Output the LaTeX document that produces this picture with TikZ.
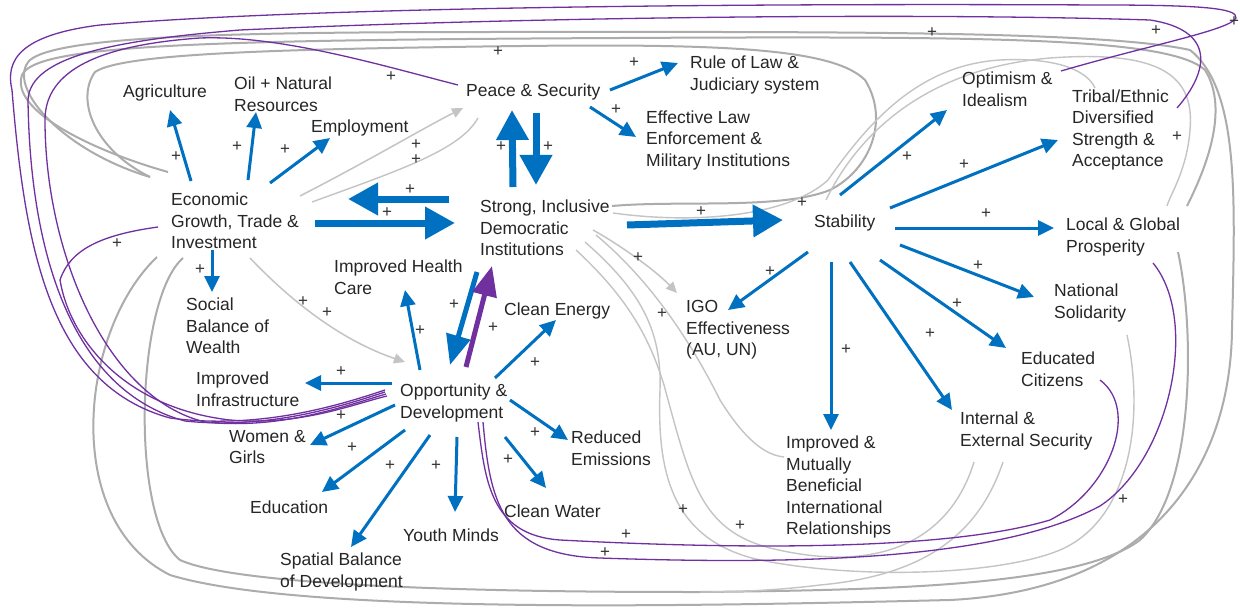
\documentclass[tikz,border=0pt]{standalone}
\usepackage{fontspec}
\setmainfont{Liberation Sans}
\usetikzlibrary{arrows.meta,calc}
\definecolor{cblue}{RGB}{0,112,192}
\definecolor{cpurple}{RGB}{112,48,160}
\definecolor{cgray}{RGB}{172,172,172}
\definecolor{lgray}{RGB}{196,196,196}
\pgfdeclarelayer{bg}
\pgfdeclarelayer{paper}
\pgfsetlayers{paper,bg,main}
\begin{document}
\begin{tikzpicture}[x=1pt,y=-1pt,
  lbl/.style={anchor=west,inner sep=0pt,align=left,font=\fontsize{17.5}{21.5}\selectfont,text=black!85},
  plus/.style={inner sep=0pt,font=\fontsize{17}{17}\selectfont,text=black!80},
  barrow/.style={draw=cblue,line width=3pt,-{Triangle[length=16pt,width=15pt]}},
  bigarrow/.style={draw=cblue,line width=7pt,-{Triangle[length=30pt,width=31pt]}},
  medarrow/.style={line width=5pt,-{Triangle[length=30pt,width=24pt]}},
  garrow/.style={draw=lgray,line width=1.5pt,-{Triangle[length=11pt,width=10pt]}},
  gline/.style={draw=cgray,line width=2pt},
  tline/.style={draw=lgray,line width=1.4pt},
  pline/.style={draw=cpurple,line width=1.3pt}
]
\begin{pgfonlayer}{paper}
\fill[white] (0,0) rectangle (1240,615);
\end{pgfonlayer}
\useasboundingbox (0,0) rectangle (1240,615);

% ---- variables ----
\node[lbl] (agri) at (123,93) {Agriculture};
\node[lbl] (oil) at (234,94) {Oil + Natural\\Resources};
\node[lbl] (empl) at (311,128) {Employment};
\node[lbl] (peace) at (466,92) {Peace \& Security};
\node[lbl] (rule) at (690,75) {Rule of Law \&\\Judiciary system};
\node[lbl] (eff) at (646,140) {Effective Law\\Enforcement \&\\Military Institutions};
\node[lbl] (econ) at (171,221) {Economic\\Growth, Trade \&\\Investment};
\node[lbl] (strong) at (480,228) {Strong, Inclusive\\Democratic\\Institutions};
\node[lbl] (stab) at (814,223) {Stability};
\node[lbl] (opt) at (962,89) {Optimism \&\\Idealism};
\node[lbl] (tribal) at (1072,130) {Tribal/Ethnic\\Diversified\\Strength \&\\Acceptance};
\node[lbl] (local) at (1066,237) {Local \& Global\\Prosperity};
\node[lbl] (natl) at (1054,303) {National\\Solidarity};
\node[lbl] (educc) at (1021,369) {Educated\\Citizens};
\node[lbl] (intext) at (960,431) {Internal \&\\External Security};
\node[lbl] (mutual) at (786,487) {Improved \&\\Mutually\\Beneficial\\International\\Relationships};
\node[lbl] (igo) at (686,330) {IGO\\Effectiveness\\(AU, UN)};
\node[lbl] (health) at (334,277) {Improved Health\\Care};
\node[lbl] (energy) at (504,311) {Clean Energy};
\node[lbl] (social) at (186,326) {Social\\Balance of\\Wealth};
\node[lbl] (infra) at (196,389) {Improved\\Infrastructure};
\node[lbl] (opp) at (400,403) {Opportunity \&\\Development};
\node[lbl] (women) at (229,447) {Women \&\\Girls};
\node[lbl] (reduced) at (571,448) {Reduced\\Emissions};
\node[lbl] (education) at (250,507) {Education};
\node[lbl] (water) at (504,511) {Clean Water};
\node[lbl] (youth) at (403,535) {Youth Minds};
\node[lbl] (spatial) at (280,572) {Spatial Balance\\of Development};

\coordinate (merge) at (700,592);

\begin{pgfonlayer}{bg}
% ---- grey loops ----
\draw[gline] ($(econ.west)+(-21,-44)$) .. controls (95,150) and (75,100) .. (95,72)
  .. controls (120,55) and (250,50) .. (450,47)
  .. controls (700,43) and (830,45) .. (865,80)
  .. controls (890,120) and (870,170) .. (830,190)
  .. controls (780,210) and (680,200) .. ($(strong.west)+(132,-22)$);
\draw[gline] ($(econ.west)+(-3,-49)$) .. controls (90,150) and (10,110) .. (22,75)
  .. controls (35,45) and (200,40) .. (620,38)
  .. controls (1000,36) and (1170,38) .. (1205,70)
  .. controls (1230,110) and (1205,170) .. ($(local.west)+(121,-31)$);
\draw[gline] ($(econ.west)+(-14,36)$) .. controls (80,330) and (60,520) .. (170,575)
  .. controls (300,615) and (700,606) .. (950,600)
  .. controls (1150,590) and (1230,470) .. (1232,330)
  .. controls (1235,200) and (1240,90) .. (1190,50)
  .. controls (1100,30) and (800,32) .. (500,32)
  .. controls (250,32) and (60,35) .. (30,60)
  .. controls (5,85) and (60,150) .. ($(econ.west)+(-21,-44)$);
\draw[gline] ($(econ.west)+(12,37)$) .. controls (135,300) and (130,520) .. (180,560)
  .. controls (250,592) and (600,592) .. (700,592)
  .. controls (900,590) and (1080,585) .. (1140,540)
  .. controls (1195,490) and (1195,330) .. ($(local.west)+(112,15)$);
\draw[tline] ($(intext.west)+(43,31)$) .. controls (980,530) and (930,575) .. (820,585)
  .. controls (780,590) and (740,592) .. (merge);
\draw[tline] ($(strong.west)+(133,-15)$) .. controls (700,225) and (790,215) .. (828,180)
  .. controls (870,120) and (920,65) .. (1000,60)
  .. controls (1060,57) and (1088,72) .. ($(tribal.west)+(23,-42)$);
\draw[tline] ($(stab.west)+(12,-23)$) .. controls (860,130) and (930,68) .. (1050,58)
  .. controls (1160,50) and (1195,75) .. (1190,130)
  .. controls (1187,170) and (1170,195) .. ($(local.west)+(101,-31)$);
\draw[tline] ($(strong.west)+(116,7)$) .. controls (650,280) and (690,340) .. (720,400)
  .. controls (745,440) and (765,455) .. ($(mutual.west)+(-2,-30)$);
\draw[tline] ($(strong.west)+(105,14)$) .. controls (640,290) and (662,330) .. (660,390)
  .. controls (657,470) and (670,540) .. (760,560)
  .. controls (860,580) and (1000,575) .. (1060,550)
  .. controls (1130,520) and (1145,420) .. ($(natl.west)+(73,32)$);
\draw[tline] ($(strong.west)+(96,22)$) .. controls (630,300) and (650,340) .. (664,385)
  .. controls (690,480) and (700,530) .. (770,548)
  .. controls (880,575) and (950,540) .. ($(intext.west)+(14,31)$);
\draw[tline] ($(econ.west)+(141,-19)$) .. controls (400,170) and (460,150) .. ($(peace.west)+(12,26)$);
\draw[garrow] ($(econ.west)+(129,-25)$) .. controls (370,160) and (420,130) .. ($(peace.west)+(-3,16)$);
\draw[garrow] ($(econ.west)+(79,37)$) .. controls (290,300) and (340,340) .. ($(opp.west)+(5,-41)$);
\draw[garrow] ($(strong.west)+(113,2)$) .. controls (620,245) and (655,270) .. ($(igo.west)+(-9,-37)$);

% ---- purple links ----
\draw[pline] ($(opt.west)+(99,-18)$) .. controls (1150,45) and (1230,30) .. (1236,18)
  .. controls (1238,8) and (1200,5) .. (1100,5)
  .. controls (700,3) and (300,8) .. (100,25)
  .. controls (20,35) and (5,60) .. (12,90)
  .. controls (25,250) and (50,385) .. (170,418)
  .. controls (260,430) and (340,405) .. ($(opp.west)+(-15,-13)$);
\draw[pline] ($(tribal.west)+(105,-22)$) .. controls (1210,70) and (1215,30) .. (1150,20)
  .. controls (900,12) and (500,18) .. (240,30)
  .. controls (120,40) and (30,55) .. (28,100)
  .. controls (30,250) and (70,390) .. (185,421)
  .. controls (270,430) and (345,405) .. ($(opp.west)+(-15,-11)$);
\draw[pline] ($(peace.west)+(-8,-7)$) .. controls (380,65) and (280,35) .. (200,38)
  .. controls (100,45) and (45,70) .. (45,120)
  .. controls (45,250) and (105,398) .. (205,422)
  .. controls (280,430) and (345,406) .. ($(opp.west)+(-14,-9)$);
\draw[pline] ($(econ.west)+(-13,6)$) .. controls (100,235) and (70,250) .. (60,280)
  .. controls (70,340) and (125,408) .. (230,420)
  .. controls (300,426) and (350,405) .. ($(opp.west)+(-13,-7)$);
\draw[pline] ($(opp.west)+(78,19)$) .. controls (485,480) and (490,535) .. (560,540)
  .. controls (750,550) and (950,550) .. (1050,520)
  .. controls (1110,490) and (1140,410) .. ($(educc.west)+(79,11)$);
\draw[pline] ($(opp.west)+(83,19)$) .. controls (490,500) and (500,555) .. (600,558)
  .. controls (800,565) and (1000,560) .. (1100,506)
  .. controls (1170,460) and (1200,320) .. ($(local.west)+(87,26)$);
\end{pgfonlayer}

% ---- blue causal links ----
\draw[barrow] ($(econ.west)+(20,-40)$) -- ($(agri.west)+(47,17)$);
\draw[barrow] ($(econ.west)+(77,-41)$) -- ($(oil.west)+(22,18)$);
\draw[barrow] ($(econ.west)+(99,-38)$) -- ($(empl.west)+(19,10)$);
\draw[barrow] ($(econ.west)+(41,29)$) -- ($(social.west)+(26,-34)$);
\draw[barrow] ($(peace.west)+(144,-2)$) -- ($(rule.west)+(-12,-12)$);
\draw[barrow] ($(peace.west)+(124,15)$) -- ($(eff.west)+(-10,-3)$);
\draw[barrow] ($(stab.west)+(26,-28)$) -- ($(opt.west)+(-15,21)$);
\draw[barrow] ($(stab.west)+(76,-15)$) -- ($(tribal.west)+(-14,10)$);
\draw[barrow] ($(stab.west)+(81,5)$) -- ($(local.west)+(-12,-9)$);
\draw[barrow] ($(stab.west)+(86,22)$) -- ($(natl.west)+(-20,-6)$);
\draw[barrow] ($(stab.west)+(66,37)$) -- ($(educc.west)+(-15,-21)$);
\draw[barrow] ($(stab.west)+(36,39)$) -- ($(intext.west)+(-8,-21)$);
\draw[barrow] ($(stab.west)+(17,39)$) -- ($(mutual.west)+(45,-57)$);
\draw[barrow] ($(stab.west)+(-6,29)$) -- ($(igo.west)+(42,-20)$);
\draw[barrow] ($(opp.west)+(20,-33)$) -- ($(health.west)+(71,13)$);
\draw[barrow] ($(opp.west)+(95,-25)$) -- ($(energy.west)+(52,9)$);
\draw[barrow] ($(opp.west)+(-8,-20)$) -- ($(infra.west)+(109,-6)$);
\draw[barrow] ($(opp.west)+(-5,2)$) -- ($(women.west)+(81,-2)$);
\draw[barrow] ($(opp.west)+(5,27)$) -- ($(education.west)+(72,-15)$);
\draw[barrow] ($(opp.west)+(30,32)$) -- ($(spatial.west)+(71,-25)$);
\draw[barrow] ($(opp.west)+(57,34)$) -- ($(youth.west)+(52,-23)$);
\draw[barrow] ($(opp.west)+(105,34)$) -- ($(water.west)+(42,-23)$);
\draw[barrow] ($(opp.west)+(110,-3)$) -- ($(reduced.west)+(-3,-8)$);

\draw[bigarrow] ($(strong.west)+(-31,-29)$) -- ($(econ.west)+(177,-22)$);
\draw[bigarrow] ($(econ.west)+(144,2)$) -- ($(strong.west)+(-25,-5)$);
\draw[bigarrow] ($(strong.west)+(33,-41)$) -- ($(peace.west)+(46,18)$);
\draw[bigarrow] ($(peace.west)+(70,21)$) -- ($(strong.west)+(56,-43)$);
\draw[bigarrow] ($(strong.west)+(147,-3)$) -- ($(stab.west)+(-31,-3)$);
\draw[medarrow,draw=cblue,fill=cblue] ($(strong.west)+(-3,44)$) -- ($(opp.west)+(50,-38)$);
\draw[medarrow,draw=cpurple,fill=cpurple] ($(opp.west)+(66,-36)$) -- ($(strong.west)+(12,38)$);

% ---- polarity marks ----
\foreach \p in {(932,33),(1156,31),(1234,22),(498,52),(391,77),(634,63),(616,110),
  (416,145),(416,160),(501,147),(548,147),(410,190),(387,213),(701,212),(802,203),
  (907,157),(964,165),(1177,137),(986,214),(978,266),(957,304),(930,334),(846,350),
  (770,272),(638,258),(662,314),(683,510),(740,526),(626,535),(605,553),(1123,500),
  (176,157),(237,147),(285,150),(117,244),(200,270),(303,302),(327,313),(454,305),
  (493,328),(420,331),(535,363),(341,372),(341,416),(352,448),(390,466),(436,466),
  (508,460),(535,433)}
  \node[plus] at \p {+};
\end{tikzpicture}
\end{document}
